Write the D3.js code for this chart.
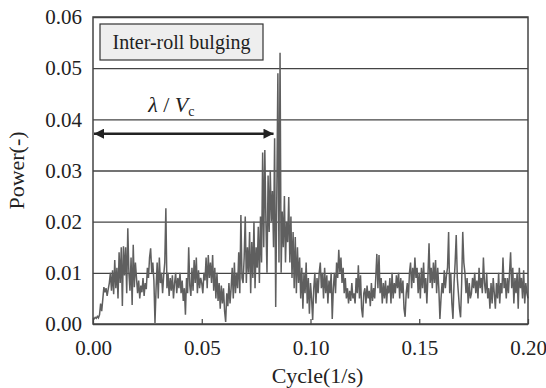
<!DOCTYPE html>
<html>
<head>
<meta charset="utf-8">
<script src="https://cdn.jsdelivr.net/npm/d3@7"></script>
<style>
  body { margin: 0; background: #fff; }
  svg text { font-family: 'Liberation Serif', 'Times New Roman', 'DejaVu Serif', serif !important; fill: #222; }
</style>
</head>
<body>
<div id="vis"></div>
<script>
// Spectrum values, one every 0.0005 1/s, from 0 to 0.20
var step = 0.0005;
var power = [
  .0012,.0010,.0013,.0011,.0015,.0012,.0018,.0040,.0025,.0048,.0072,.0062,.0070,.0055,.0068,.0080,.0100,.0065,.0105,.0058,
  .0125,.0070,.0110,.0050,.0140,.0080,.0150,.0035,.0152,.0095,.0150,.0060,.0187,.0100,.0065,.0130,.0037,.0155,.0072,.0120,
  .0090,.0060,.0085,.0050,.0075,.0062,.0090,.0055,.0080,.0068,.0110,.0090,.0130,.0148,.0100,.0120,.0085,.0002,.0070,.0120,
  .0050,.0130,.0080,.0100,.0060,.0095,.0120,.0226,.0070,.0100,.0055,.0090,.0065,.0095,.0050,.0080,.0100,.0060,.0090,.0070,
  .0100,.0060,.0085,.0045,.0070,.0018,.0090,.0060,.0150,.0075,.0055,.0110,.0065,.0125,.0080,.0130,.0060,.0105,.0070,.0090,
  .0080,.0060,.0100,.0085,.0130,.0070,.0135,.0090,.0120,.0080,.0135,.0065,.0110,.0050,.0100,.0045,.0080,.0030,.0075,.0040,
  .0070,.0025,.0004,.0060,.0035,.0080,.0040,.0070,.0110,.0050,.0120,.0060,.0100,.0070,.0140,.0060,.0213,.0090,.0080,.0130,
  .0210,.0080,.0150,.0100,.0180,.0060,.0160,.0090,.0200,.0070,.0150,.0110,.0190,.0080,.0210,.0120,.0335,.0150,.0340,.0200,
  .0100,.0290,.0180,.0300,.0200,.0260,.0150,.0363,.0033,.0250,.0490,.0120,.0530,.0100,.0220,.0150,.0250,.0120,.0200,.0160,
  .0248,.0120,.0210,.0090,.0180,.0070,.0170,.0060,.0150,.0080,.0130,.0050,.0110,.0030,.0100,.0060,.0120,.0040,.0090,.0020,
  .0080,.0050,.0008,.0070,.0100,.0040,.0090,.0060,.0100,.0120,.0070,.0100,.0050,.0110,.0060,.0095,.0040,.0085,.0060,.0100,
  .0010,.0070,.0100,.0060,.0120,.0090,.0145,.0100,.0130,.0080,.0110,.0060,.0090,.0050,.0070,.0040,.0065,.0045,.0080,.0050,
  .0060,.0040,.0090,.0060,.0115,.0050,.0095,.0030,.0013,.0060,.0070,.0040,.0075,.0050,.0065,.0035,.0080,.0045,.0070,.0050,
  .0090,.0137,.0070,.0135,.0060,.0090,.0040,.0080,.0050,.0085,.0040,.0075,.0060,.0090,.0040,.0100,.0050,.0080,.0060,.0095,
  .0070,.0100,.0050,.0090,.0060,.0085,.0030,.0014,.0060,.0080,.0050,.0100,.0120,.0070,.0110,.0080,.0130,.0090,.0110,.0060,
  .0100,.0050,.0110,.0070,.0120,.0060,.0090,.0040,.0095,.0158,.0080,.0110,.0070,.0120,.0080,.0125,.0060,.0110,.0070,.0010,
  .0050,.0080,.0060,.0105,.0070,.0095,.0110,.0180,.0060,.0100,.0040,.0010,.0080,.0120,.0174,.0090,.0060,.0030,.0013,.0080,
  .0180,.0120,.0100,.0060,.0090,.0040,.0080,.0050,.0060,.0090,.0070,.0100,.0060,.0085,.0050,.0110,.0070,.0090,.0060,.0130,
  .0080,.0060,.0100,.0050,.0070,.0030,.0080,.0040,.0090,.0060,.0030,.0080,.0050,.0100,.0040,.0080,.0060,.0130,.0070,.0090,
  .0050,.0090,.0060,.0100,.0140,.0070,.0110,.0040,.0090,.0060,.0100,.0030,.0110,.0070,.0090,.0050,.0105,.0040,.0080,.0060,
  .0050
];
var xTicks = [0, 0.05, 0.10, 0.15, 0.20];
var yTicks = [0, 0.01, 0.02, 0.03, 0.04, 0.05, 0.06];
var legendLabel = "Inter-roll bulging";
var periodValue = 0.083; // end of the lambda/Vc arrow
var periodLevel = 0.0372;

var W = 546, H = 388;
var margin = {top: 17, right: 18, bottom: 64, left: 93};
var width = W - margin.left - margin.right,
    height = H - margin.top - margin.bottom;

var svg = d3.select("#vis").append("svg")
    .attr("width", W).attr("height", H);

var defs = svg.append("defs");
defs.append("marker").attr("id", "ah")
    .attr("viewBox", "0 0 10 10").attr("refX", 10).attr("refY", 5)
    .attr("markerUnits", "userSpaceOnUse")
    .attr("markerWidth", 15).attr("markerHeight", 10)
    .attr("orient", "auto-start-reverse")
  .append("path").attr("d", "M0,0 L10,5 L0,10 z").attr("fill", "#222");

var g = svg.append("g")
    .attr("transform", "translate(" + margin.left + "," + margin.top + ")");

var x = d3.scaleLinear().domain([0, 0.20]).range([0, width]);
var y = d3.scaleLinear().domain([0, 0.06]).range([height, 0]);

var data = power.map(function(v, i) { return {f: i * step, p: v}; });

// grid lines
g.append("g").attr("class", "grid")
    .call(d3.axisLeft(y).tickValues(yTicks).tickSize(-width).tickFormat(""))
    .call(function(s) {
      s.select(".domain").remove();
      s.selectAll("line").attr("stroke", "#444").attr("stroke-width", 1.4);
    });

// series
var line = d3.line().x(function(d) { return x(d.f); }).y(function(d) { return y(d.p); });
g.append("path").datum(data)
    .attr("d", line)
    .attr("fill", "none")
    .attr("stroke", "#5f5f5f")
    .attr("stroke-width", 1.5)
    .attr("stroke-linejoin", "miter");

// frame
g.append("rect").attr("width", width).attr("height", height)
    .attr("fill", "none").attr("stroke", "#444").attr("stroke-width", 1.5);

// x axis (inner ticks)
var xAxis = g.append("g").attr("transform", "translate(0," + height + ")")
    .call(d3.axisBottom(x).tickValues(xTicks).tickSize(-5).tickPadding(16).tickFormat(d3.format(".2f")));
xAxis.attr("font-family", null);
xAxis.select(".domain").remove();
xAxis.selectAll("line").attr("stroke", "#444").attr("stroke-width", 1.2);
xAxis.selectAll("text").attr("font-size", 21).attr("fill", "#222");

// y axis labels
var yAxis = g.append("g")
    .call(d3.axisLeft(y).tickValues(yTicks).tickSize(0).tickPadding(11).tickFormat(d3.format(".2f")));
yAxis.attr("font-family", null);
yAxis.select(".domain").remove();
yAxis.selectAll("text").attr("font-size", 21).attr("fill", "#222");

// axis titles
g.append("text")
    .attr("x", width / 2 + 7).attr("y", height + 59)
    .attr("text-anchor", "middle").attr("font-size", 22)
    .text("Cycle(1/s)");
g.append("text")
    .attr("transform", "translate(" + (-69) + "," + (height / 2) + ") rotate(-90)")
    .attr("text-anchor", "middle").attr("font-size", 22)
    .text("Power(-)");

// legend box
var lg = g.append("g").attr("transform", "translate(7,7)");
lg.append("rect").attr("width", 163).attr("height", 36)
    .attr("fill", "#eeeeee").attr("stroke", "#333").attr("stroke-width", 1.2);
lg.append("text").attr("x", 81.5).attr("y", 24.5)
    .attr("text-anchor", "middle").attr("font-size", 20)
    .text(legendLabel);

// lambda / Vc arrow
g.append("line")
    .attr("x1", x(0) + 1).attr("x2", x(periodValue))
    .attr("y1", y(periodLevel)).attr("y2", y(periodLevel))
    .attr("stroke", "#222").attr("stroke-width", 2.5)
    .attr("marker-start", "url(#ah)").attr("marker-end", "url(#ah)");

var lab = g.append("text")
    .attr("x", x(0.036)).attr("y", y(periodLevel) - 22)
    .attr("text-anchor", "middle").attr("font-size", 22);
lab.append("tspan").attr("font-style", "italic").text("λ");
lab.append("tspan").text(" / ");
lab.append("tspan").attr("font-style", "italic").text("V");
lab.append("tspan").attr("font-size", 14).attr("dy", 4).text("c");
</script>
</body>
</html>
